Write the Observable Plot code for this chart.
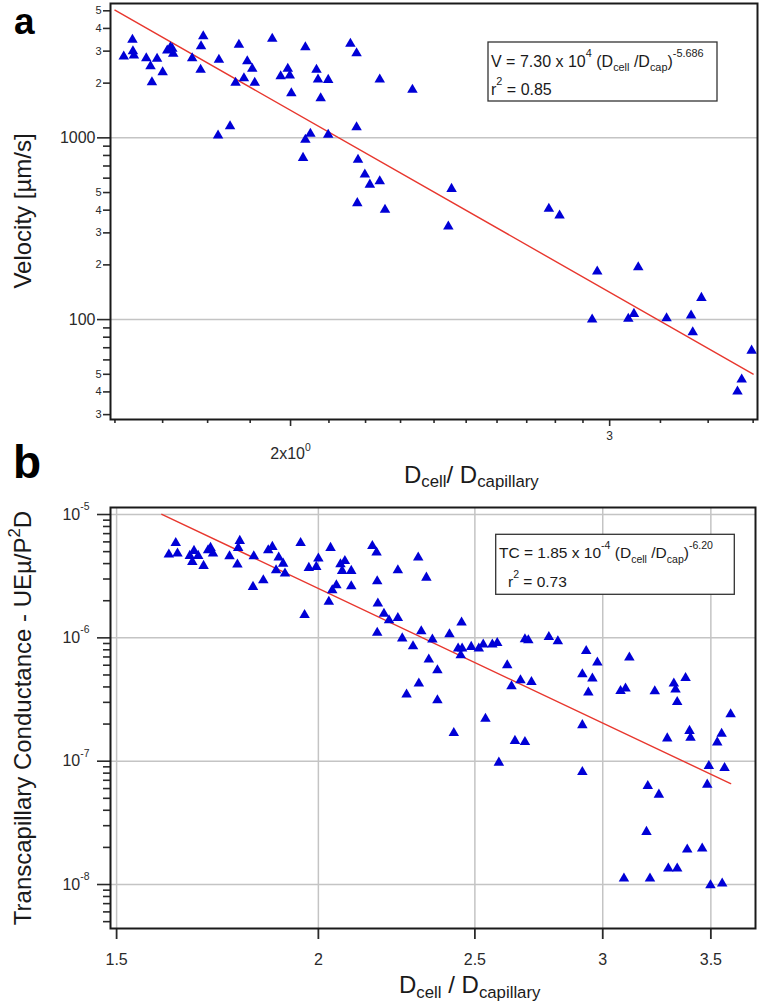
<!DOCTYPE html>
<html><head><meta charset="utf-8">
<script src="https://cdn.jsdelivr.net/npm/d3@7"></script>
<script src="https://cdn.jsdelivr.net/npm/@observablehq/plot@0.6"></script>
<style>
html,body{margin:0;padding:0;background:#fff;}
#wrap{width:762px;}
#wrap svg{display:block;}
</style></head><body><div id="wrap"></div>
<script>
// ---------------- Panel a data: Velocity vs Dcell/Dcapillary ----------------
const velX = [1.618,1.636,1.637,1.639,1.665,1.674,1.677,1.688,1.700,1.710,1.717,1.721,1.723,1.765,1.785,1.790,1.784,1.824,1.826,1.852,1.865,1.873,1.885,1.893,1.905,1.911,1.954,1.975,1.993,1.998,2.002,2.032,2.038,2.038,2.051,2.067,2.071,2.078,2.098,2.098,2.158,2.175,2.175,2.179,2.177,2.198,2.212,2.240,2.240,2.255,2.335,2.454,2.444,2.777,2.815,2.953,3.111,2.934,3.072,3.094,3.225,3.327,3.371,3.334,3.593,3.548,3.529];
const velY = [2802,3462,2997,2837,2742,2478,2023,2721,2296,3024,3152,3090,2900,2742,3192,3624,2367,1030,2687,1158,2008,3250,2128,2640,2397,2008,3507,2183,2397,2203,1760,776,3152,975,1052,2367,2094,1652,2085,1039,3291,2922,1144,757,437,628,553,577,2094,402,1837,524,325,407,374,184,194,100,101,107.5,101.7,105.2,131.6,85.1,67.5,46.8,40.2];
const fitA = {coef: 7.30e4, power: -5.686, xMin: 1.6, xMax: 3.6};
const eqA = ["V = 7.30 x 10^{4} (D_{cell} /D_{cap})^{-5.686}", "r^{2} = 0.85"];
const yTicksA = [5000,4000,3000,2000,1000,600,500,400,300,200,100,60,50,40,30];
const yTickLabelsA = ["5","4","3","2","1000","6","5","4","3","2","100","6","5","4","3"];
const yMinorA = [900,800,700,90,80,70];
const gridA = [1000,100];
const xTicksA = [2,3];
const xTickLabelsA = ["2x10^{0}","3"];
const xMinorA = [1.6,1.7,1.8,1.9,2.1,2.2,2.3,2.4,2.5,2.6,2.7,2.8,2.9,3.2,3.4,3.6];

// ---------------- Panel b data: Transcapillary conductance ----------------
const tcX = [1.616,1.632,1.636,1.665,1.671,1.675,1.685,1.698,1.709,1.715,1.721,1.762,1.782,1.784,1.788,1.822,1.824,1.849,1.862,1.873,1.883,1.890,1.902,1.907,1.950,1.961,1.973,1.994,2.000,2.030,2.035,2.040,2.052,2.064,2.069,2.077,2.096,2.096,2.160,2.173,2.175,2.177,2.175,2.196,2.212,2.240,2.240,2.254,2.289,2.306,2.308,2.316,2.333,2.341,2.268,2.353,2.370,2.370,
  2.411,2.453,2.441,2.455,2.450,2.487,2.514,2.530,2.563,2.581,2.618,2.634,2.668,2.710,2.685,2.698,2.778,2.814,2.930,2.977,2.914,2.956,2.939,3.116,3.077,3.099,3.231,3.320,3.328,3.376,3.336,3.600,2.538,
  2.426,2.647,2.685,2.587,2.914,2.914,3.289,3.395,3.400,3.554,3.532,3.490,3.569,3.482,3.199,3.250,3.193,3.384,3.457,3.294,3.336,3.092,3.209,3.498,3.557];
const tcY = [4.74e-6,5.88e-6,4.83e-6,4.62e-6,4.13e-6,5.07e-6,4.62e-6,3.83e-6,5.13e-6,5.36e-6,4.83e-6,4.59e-6,3.93e-6,5.36e-6,6.11e-6,2.59e-6,4.59e-6,2.93e-6,5.13e-6,5.46e-6,3.53e-6,4.48e-6,4.0e-6,3.32e-6,5.88e-6,1.53e-6,3.69e-6,3.76e-6,4.40e-6,1.96e-6,5.36e-6,2.43e-6,2.67e-6,3.95e-6,3.49e-6,4.20e-6,3.49e-6,2.62e-6,5.56e-6,4.92e-6,2.88e-6,1.90e-6,1.10e-6,1.57e-6,1.39e-6,3.53e-6,1.45e-6,9.9e-7,8.55e-7,4.48e-6,4.26e-7,1.13e-6,3.08e-6,6.67e-7,3.47e-7,9.69e-7,5.46e-7,3.12e-7,
  1.07e-6,1.33e-6,8.19e-7,8.19e-7,7.23e-7,8.44e-7,8.19e-7,8.82e-7,8.82e-7,9.09e-7,6.0e-7,4.05e-7,4.53e-7,4.39e-7,9.74e-7,9.56e-7,1.017e-6,9.39e-7,7.83e-7,6.31e-7,5.07e-7,4.68e-7,3.60e-7,6.92e-7,3.71e-7,3.88e-7,3.69e-7,4.26e-7,3.81e-7,4.73e-7,3.02e-7,2.40e-7,2.21e-7,
  1.69e-7,1.46e-7,1.43e-7,9.74e-8,1.96e-7,8.17e-8,1.53e-7,1.76e-7,1.55e-7,1.67e-7,1.42e-7,9.14e-8,8.81e-8,6.46e-8,6.29e-8,5.36e-8,2.67e-8,1.92e-8,1.96e-8,1.35e-8,1.35e-8,1.12e-8,1.12e-8,9.85e-9,1.02e-8];
const fitB = {coef: 1.85e-4, power: -6.20, xMin: 1.6, xMax: 3.6};
const eqB = ["TC = 1.85 x 10^{-4} (D_{cell} /D_{cap})^{-6.20}", "r^{2} = 0.73"];
const yMajorB = [1e-5,1e-6,1e-7,1e-8];
const yMajorLabelsB = ["10^{-5}","10^{-6}","10^{-7}","10^{-8}"];
const yMantissaB = [2,3,4,5,6,7,8,9];
const yDecadesB = [1e-9,1e-8,1e-7,1e-6];
const xTicksB = [1.5,2,2.5,3,3.5];
const xTickLabelsB = ["1.5","2","2.5","3","3.5"];

// ---------------- styling ----------------
const FONT = "'Liberation Sans', Arial, Helvetica, sans-serif";
const INK = "#1a1a1a";
const TICKINK = "#2a2a2a";
const BLUE = "#0000d6";
const RED = "#e8372e";
const GRID = "#c4c4c4";

function parseRich(s){
  const out=[]; const re=/([_^])\{([^}]*)\}/g; let last=0, m;
  while((m=re.exec(s))){
    if(m.index>last) out.push({t:"n", s:s.slice(last,m.index)});
    out.push({t: m[1]==="^" ? "sup" : "sub", s:m[2]});
    last=re.lastIndex;
  }
  if(last<s.length) out.push({t:"n", s:s.slice(last)});
  return out;
}
function fillRich(el, str, fs, o={}){
  const sc=o.scale ?? 0.68, up=o.up ?? 0.55, down=o.down ?? 0.25;
  el.text(null).style("white-space","pre");
  let shift=0;
  for(const seg of parseRich(str)){
    const target = seg.t==="sup" ? -fs*up : seg.t==="sub" ? fs*down : 0;
    const ts = el.append("tspan").text(seg.s);
    const d = target-shift;
    if(d) ts.attr("dy", d);
    if(seg.t!=="n") ts.attr("font-size", fs*sc);
    shift=target;
  }
}
function addText(svg, x, y, str, fs, o={}){
  const t = d3.select(svg).append("text")
    .attr("font-family", FONT).attr("font-size", fs)
    .attr("fill", o.fill || INK)
    .attr("font-weight", o.weight || null)
    .attr("text-anchor", o.anchor || "start");
  if(o.rotate) t.attr("transform", `translate(${x},${y}) rotate(${o.rotate})`);
  else t.attr("x", x).attr("y", y);
  fillRich(t, str, fs, o);
  return t;
}
function richTicks(svg, fs, o){
  d3.select(svg).selectAll("text").each(function(){
    const s=this.textContent;
    if(/[\^_]\{/.test(s)) fillRich(d3.select(this), s, fs, o);
  });
}
const fitLine = f => [f.xMin, f.xMax].map(x => ({x, y: f.coef*Math.pow(x, f.power)}));

// ---------------- Panel a ----------------
const ptsA = velX.map((x,i)=>({x, y: velY[i]}));
const digitTicksA = yTicksA.filter((d,i)=>yTickLabelsA[i].length===1);
const bigTicksA = yTicksA.filter((d,i)=>yTickLabelsA[i].length>1);
const labA = d => yTickLabelsA[yTicksA.indexOf(d)];
const labXA = d => xTickLabelsA[xTicksA.indexOf(d)];

const plotA = Plot.plot({
  width:762, height:500,
  marginLeft:110, marginRight:5, marginTop:3, marginBottom:81,
  style:{fontFamily:FONT, background:"#fff", color:TICKINK},
  x:{type:"log", domain:[1.591,3.62], label:null},
  y:{type:"log", domain:[28.2,5485], label:null},
  marks:[
    Plot.ruleY(gridA, {stroke:GRID, strokeWidth:1.5}),
    Plot.axisY(yMinorA, {tickSize:7, tickFormat:()=>"", strokeWidth:1.6, label:null}),
    Plot.axisY(digitTicksA, {tickSize:7, tickPadding:2, tickFormat:labA, fontSize:11, strokeWidth:1.6, label:null}),
    Plot.axisY(bigTicksA, {tickSize:13, tickPadding:2, tickFormat:labA, fontSize:16, strokeWidth:1.6, label:null}),
    Plot.axisX(xMinorA, {tickSize:4, tickFormat:()=>"", strokeWidth:1.6, label:null}),
    Plot.axisX([xTicksA[0]], {tickSize:7, tickPadding:21, tickFormat:labXA, fontSize:16, strokeWidth:1.6, label:null}),
    Plot.axisX([xTicksA[1]], {tickSize:7, tickPadding:5, tickFormat:labXA, fontSize:12, strokeWidth:1.6, label:null}),
    Plot.line(fitLine(fitA), {x:"x", y:"y", stroke:RED, strokeWidth:1.4}),
    Plot.dot(ptsA, {x:"x", y:"y", symbol:"triangle", r:3.9, fill:BLUE, stroke:"none"}),
    Plot.frame({stroke:INK, strokeWidth:2})
  ]
});
richTicks(plotA, 16, {up:0.5, scale:0.65});
// labels panel a
addText(plotA, 31, 211, "Velocity [µm/s]", 24, {rotate:-90, anchor:"middle"});
addText(plotA, 404, 483, "D_{cell}/ D_{capillary}", 24, {down:0.18, scale:0.7});
d3.select(plotA).append("rect").attr("x",488).attr("y",42).attr("width",229).attr("height",59)
  .attr("fill","#fff").attr("stroke","#333").attr("stroke-width",1.3);
addText(plotA, 491, 66.7, eqA[0], 16, {up:0.62, down:0.28, scale:0.68});
addText(plotA, 491, 95, eqA[1], 16, {up:0.6, scale:0.68});
addText(plotA, 14, 34, "a", 37, {weight:"bold", fill:"#000"});
addText(plotA, 13, 478, "b", 46, {weight:"bold", fill:"#000"});

// ---------------- Panel b ----------------
const ptsB = tcX.map((x,i)=>({x, y: tcY[i]}));
const yDomB = [4.4e-9, 1.14e-5];
const yMinorB = yDecadesB.flatMap(dec => yMantissaB.map(m => m*dec)).filter(v => v>=yDomB[0] && v<=yDomB[1]);
const labYB = d => yMajorLabelsB[yMajorB.indexOf(d)];
const labXB = d => xTickLabelsB[xTicksB.indexOf(d)];

const plotB = Plot.plot({
  width:762, height:505,
  marginLeft:110, marginRight:7, marginTop:7, marginBottom:77,
  style:{fontFamily:FONT, background:"#fff", color:TICKINK},
  x:{type:"log", domain:[1.487,3.730], label:null},
  y:{type:"log", domain:yDomB, label:null},
  marks:[
    Plot.ruleX(xTicksB, {stroke:GRID, strokeWidth:1.5}),
    Plot.ruleY(yMajorB, {stroke:GRID, strokeWidth:1.5}),
    Plot.axisY(yMinorB, {tickSize:7, tickFormat:()=>"", strokeWidth:1.6, label:null}),
    Plot.axisY(yMajorB, {tickSize:13, tickPadding:8, tickFormat:labYB, fontSize:16, strokeWidth:1.6, label:null}),
    Plot.axisX(xTicksB, {tickSize:11, tickPadding:14, tickFormat:labXB, fontSize:16, strokeWidth:1.8, label:null}),
    Plot.line(fitLine(fitB), {x:"x", y:"y", stroke:RED, strokeWidth:1.4}),
    Plot.dot(ptsB, {x:"x", y:"y", symbol:"triangle", r:3.9, fill:BLUE, stroke:"none"}),
    Plot.frame({stroke:INK, strokeWidth:2})
  ]
});
richTicks(plotB, 16, {up:0.6, scale:0.65});
addText(plotB, 31, 218, "Transcapillary Conductance - UEµ/P^{2}D", 24, {rotate:-90, anchor:"middle", up:0.45, scale:0.7});
addText(plotB, 399, 493.3, "D_{cell} / D_{capillary}", 24, {down:0.18, scale:0.7});
d3.select(plotB).append("rect").attr("x",495.7).attr("y",34.3).attr("width",238.6).attr("height",60)
  .attr("fill","#fff").attr("stroke","#333").attr("stroke-width",1.3);
addText(plotB, 499, 58.3, eqB[0], 15.5, {up:0.62, down:0.28, scale:0.68});
addText(plotB, 508, 87.3, eqB[1], 15.5, {up:0.6, scale:0.68});

document.getElementById("wrap").append(plotA, plotB);
</script></body></html>
